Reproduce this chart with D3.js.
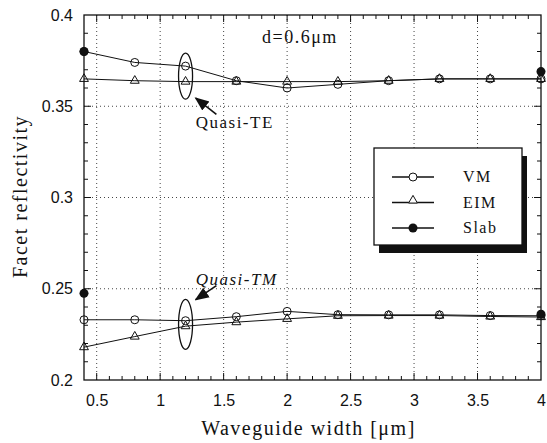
<!DOCTYPE html>
<meta charset="utf-8">
<style>
body { margin: 0; background: #fff; }
.grid line { stroke: #444; stroke-width: 1px; stroke-dasharray: 1,3; }
.series { fill: none; stroke: #111; stroke-width: 1px; }
.tick text { font-family: "Liberation Sans", Arial, sans-serif; font-size: 16px; fill: #111; }
.serif { font-family: "Liberation Serif", "Times New Roman", serif; fill: #111; }
</style>
<body>
<script src="https://d3js.org/d3.v7.min.js"></script>
<script>

// waveguide widths (um)
var widths = [0.4, 0.8, 1.2, 1.6, 2.0, 2.4, 2.8, 3.2, 3.6, 4.0];

// quasi-TE
var teVM  = [0.380, 0.374, 0.372, 0.364, 0.360, 0.362, 0.364, 0.365, 0.365, 0.365];
var teEIM = [0.365, 0.364, 0.3635, 0.3635, 0.3635, 0.3635, 0.364, 0.365, 0.365, 0.365];
var teSlabX = [0.4, 4.0];
var teSlab  = [0.380, 0.369];

// quasi-TM
var tmVM  = [0.233, 0.233, 0.2325, 0.2347, 0.2376, 0.2358, 0.2357, 0.2357, 0.2353, 0.2352];
var tmEIM = [0.218, 0.2238, 0.2295, 0.2317, 0.2335, 0.2352, 0.2353, 0.2353, 0.2348, 0.2345];
var tmSlabX = [0.4, 4.0];
var tmSlab  = [0.2475, 0.236];

var xTicks = [0.5, 1, 1.5, 2, 2.5, 3, 3.5, 4];
var yTicks = [0.2, 0.25, 0.3, 0.35, 0.4];
var legendNames = ["VM", "EIM", "Slab"];

var margin = {top: 15, right: 6, bottom: 63, left: 84},
    width = 547 - margin.left - margin.right,
    height = 443 - margin.top - margin.bottom;

var x = d3.scaleLinear().domain([0.4, 4]).range([0, width]);
var y = d3.scaleLinear().domain([0.2, 0.4]).range([height, 0]);

var svg = d3.select("body").append("svg")
    .attr("width", 547)
    .attr("height", 443)
  .append("g")
    .attr("transform", "translate(" + margin.left + "," + margin.top + ")");

// dotted grid
var grid = svg.append("g").attr("class", "grid");
grid.selectAll(".gx").data(xTicks.slice(0, -1)).enter().append("line")
    .attr("x1", d => x(d)).attr("x2", d => x(d))
    .attr("y1", 0).attr("y2", height);
grid.selectAll(".gy").data([0.25, 0.3, 0.35]).enter().append("line")
    .attr("x1", 0).attr("x2", width)
    .attr("y1", d => y(d)).attr("y2", d => y(d));

// minor ticks
var xMinor = d3.range(5, 40).map(d => d / 10);
var yMinor = d3.range(21, 40).map(d => d / 100);

function tickAxes() {
  var tk = svg.append("g").attr("stroke", "#111").attr("stroke-width", 1);
  xMinor.forEach(function(v) {
    var major = xTicks.some(t => Math.abs(t - v) < 1e-6);
    var len = major ? 7 : 4;
    tk.append("line").attr("x1", x(v)).attr("x2", x(v)).attr("y1", height).attr("y2", height - len);
    tk.append("line").attr("x1", x(v)).attr("x2", x(v)).attr("y1", 0).attr("y2", len);
  });
  yMinor.forEach(function(v) {
    var major = yTicks.some(t => Math.abs(t - v) < 1e-6);
    var len = major ? 7 : 4;
    tk.append("line").attr("x1", 0).attr("x2", len).attr("y1", y(v)).attr("y2", y(v));
    tk.append("line").attr("x1", width).attr("x2", width - len).attr("y1", y(v)).attr("y2", y(v));
  });
}
tickAxes();

// frame
svg.append("rect")
    .attr("width", width).attr("height", height)
    .attr("fill", "none").attr("stroke", "#111").attr("stroke-width", 1.3);

// axes labels
var xAxis = svg.append("g")
    .attr("transform", "translate(0," + height + ")")
    .call(d3.axisBottom(x).tickValues(xTicks).tickSize(0).tickPadding(15).tickFormat(d3.format("")));
xAxis.select(".domain").remove();

var yAxis = svg.append("g")
    .call(d3.axisLeft(y).tickValues(yTicks).tickSize(0).tickPadding(11).tickFormat(d3.format("")));
yAxis.select(".domain").remove();

svg.append("text")
    .attr("class", "serif")
    .attr("x", width / 2 - 4).attr("y", height + 55)
    .attr("text-anchor", "middle")
    .style("font-size", "20px").style("letter-spacing", "1.5px")
    .text("Waveguide width [\u03bcm]");

svg.append("text")
    .attr("class", "serif")
    .attr("transform", "translate(-57," + (height / 2 - 1) + ") rotate(-90)")
    .attr("text-anchor", "middle")
    .style("font-size", "20px").style("letter-spacing", "1.5px")
    .text("Facet reflectivity");

// series
var line = d3.line().x(d => x(d[0])).y(d => y(d[1]));
var zip = (xs, ys) => xs.map((v, i) => [v, ys[i]]);

var tri = d3.symbol().type(d3.symbolTriangle).size(34);

function drawVM(vals) {
  var pts = zip(widths, vals);
  svg.append("path").datum(pts).attr("class", "series").attr("d", line);
  svg.selectAll(null).data(pts).enter().append("circle")
      .attr("cx", d => x(d[0])).attr("cy", d => y(d[1])).attr("r", 4)
      .attr("fill", "none").attr("stroke", "#111").attr("stroke-width", 1);
}
function drawEIM(vals) {
  var pts = zip(widths, vals);
  svg.append("path").datum(pts).attr("class", "series").attr("d", line);
  svg.selectAll(null).data(pts).enter().append("path")
      .attr("d", tri)
      .attr("transform", d => "translate(" + x(d[0]) + "," + y(d[1]) + ")")
      .attr("fill", "none").attr("stroke", "#111").attr("stroke-width", 1);
}
function drawSlab(xs, vals) {
  svg.selectAll(null).data(zip(xs, vals)).enter().append("circle")
      .attr("cx", d => x(d[0])).attr("cy", d => y(d[1])).attr("r", 4.5)
      .attr("fill", "#111");
}
drawEIM(teEIM); drawVM(teVM); drawSlab(teSlabX, teSlab);
drawEIM(tmEIM); drawVM(tmVM); drawSlab(tmSlabX, tmSlab);

// annotations
svg.append("text").attr("class", "serif")
    .attr("x", 262 - margin.left).attr("y", 28)
    .style("font-size", "18px").style("letter-spacing", "1.5px")
    .text("d=0.6\u03bcm");

svg.append("ellipse")
    .attr("cx", x(1.2)).attr("cy", y(0.3665)).attr("rx", 7).attr("ry", 23)
    .attr("fill", "none").attr("stroke", "#111").attr("stroke-width", 1.3);
svg.append("ellipse")
    .attr("cx", x(1.2)).attr("cy", y(0.2305)).attr("rx", 7).attr("ry", 25)
    .attr("fill", "none").attr("stroke", "#111").attr("stroke-width", 1.3);

svg.append("defs").append("marker")
    .attr("id", "arr").attr("viewBox", "0 0 10 10")
    .attr("refX", 9).attr("refY", 5)
    .attr("markerWidth", 9).attr("markerHeight", 9)
    .attr("orient", "auto-start-reverse")
  .append("path").attr("d", "M0,1 L10,5 L0,9 Z").attr("fill", "#111");

svg.append("line")
    .attr("x1", x(1.443)).attr("y1", y(0.3455))
    .attr("x2", x(1.28)).attr("y2", y(0.3545))
    .attr("stroke", "#111").attr("stroke-width", 1.6).attr("marker-end", "url(#arr)");
svg.append("line")
    .attr("x1", x(1.443)).attr("y1", y(0.2517))
    .attr("x2", x(1.28)).attr("y2", y(0.244))
    .attr("stroke", "#111").attr("stroke-width", 1.6).attr("marker-end", "url(#arr)");

svg.append("text").attr("class", "serif")
    .attr("x", x(1.28)).attr("y", 113)
    .style("font-size", "17px").style("letter-spacing", "1.5px")
    .text("Quasi-TE");
svg.append("text").attr("class", "serif")
    .attr("x", x(1.28)).attr("y", 270)
    .style("font-size", "17px").style("letter-spacing", "1.5px").style("font-style", "italic")
    .text("Quasi-TM");

// legend
var lg = svg.append("g").attr("transform", "translate(" + (374 - margin.left) + "," + (148 - margin.top) + ")");
lg.append("rect").attr("x", 5).attr("y", 8).attr("width", 148).attr("height", 97).attr("fill", "#111");
lg.append("rect").attr("width", 148).attr("height", 97)
    .attr("fill", "#fff").attr("stroke", "#111").attr("stroke-width", 1.3);

legendNames.forEach(function(name, i) {
  var ly = 29 + i * 25.5;
  lg.append("line").attr("x1", 18).attr("x2", 60).attr("y1", ly).attr("y2", ly)
      .attr("stroke", "#111").attr("stroke-width", 1.3);
  if (name === "VM") {
    lg.append("circle").attr("cx", 39).attr("cy", ly).attr("r", 4)
        .attr("fill", "#fff").attr("stroke", "#111");
  } else if (name === "EIM") {
    lg.append("path").attr("d", tri).attr("transform", "translate(39," + (ly - 2) + ")")
        .attr("fill", "#fff").attr("stroke", "#111");
  } else {
    lg.append("circle").attr("cx", 39).attr("cy", ly).attr("r", 4.5).attr("fill", "#111");
  }
  lg.append("text").attr("class", "serif")
      .attr("x", 89).attr("y", ly + 5)
      .style("font-size", "16px").style("letter-spacing", "1.5px")
      .text(name);
});

</script>
</body>
